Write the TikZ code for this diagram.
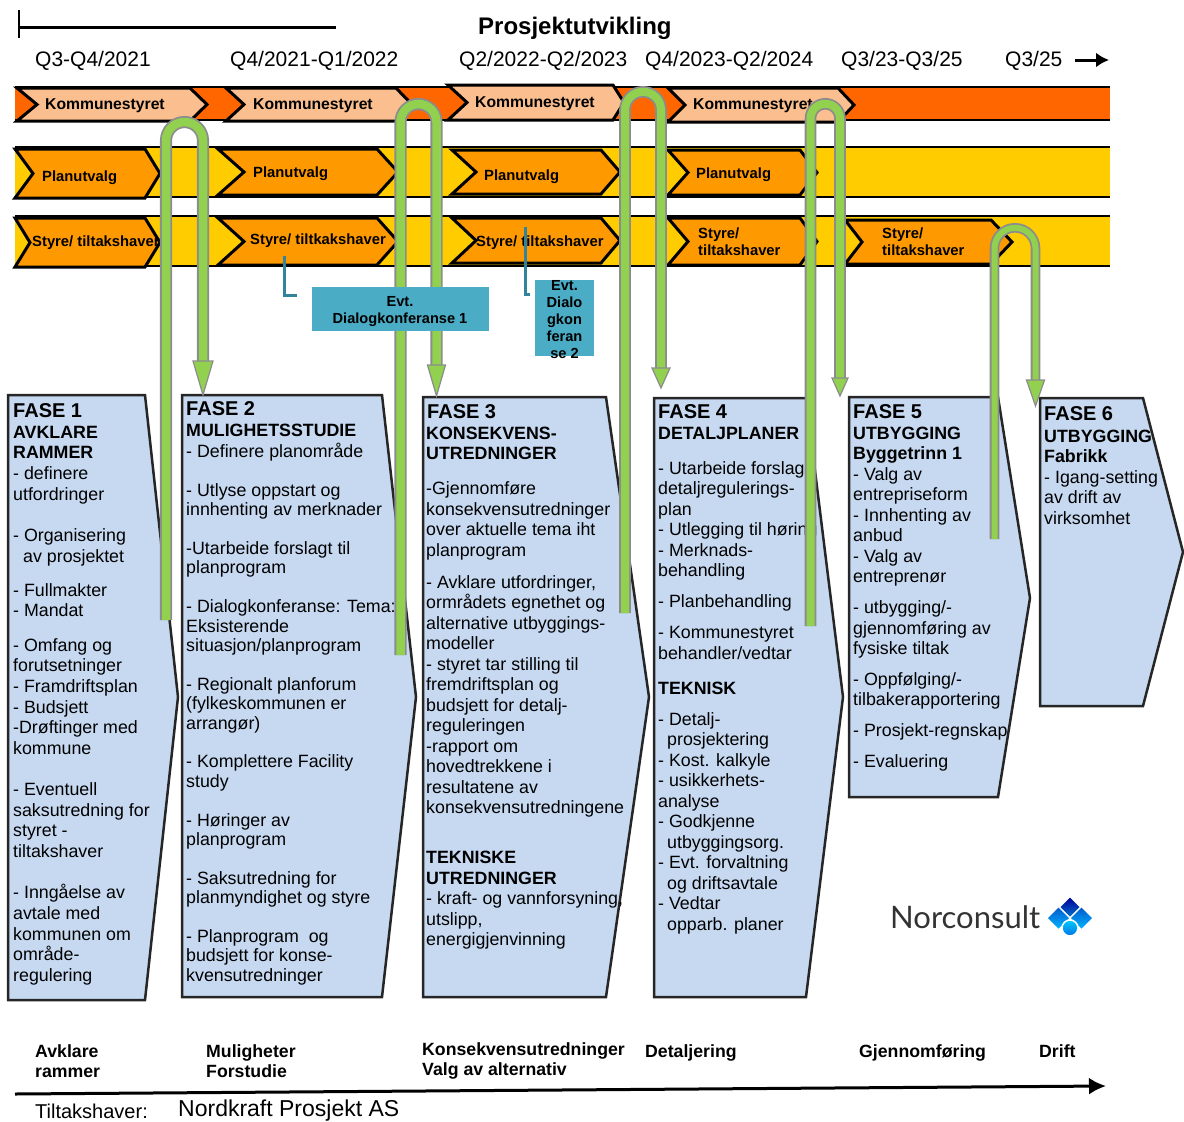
\documentclass[tikz,border=0pt]{standalone}
\usepackage{fontspec}
\usetikzlibrary{arrows.meta}
\setmainfont{Liberation Sans}
\newfontfamily\logofont{Lato}
\definecolor{komstrip}{HTML}{FF6600}
\definecolor{komchev}{HTML}{FBBF8F}
\definecolor{planstrip}{HTML}{FFCC00}
\definecolor{planchev}{HTML}{FF9900}
\definecolor{fasefill}{HTML}{C6D9F1}
\definecolor{dlgfill}{HTML}{4BACC6}
\definecolor{dlgline}{HTML}{31849B}
\definecolor{tubegreen}{HTML}{92D050}
\definecolor{tubegray}{HTML}{8C8C8C}
\newcommand{\px}[1]{\fontsize{#1}{#1}\selectfont}
\begin{document}
\begin{tikzpicture}[x=1pt,y=-1pt,line join=miter]
    \tikzstyle{strip}=[draw=black,line width=1.2pt]
    \tikzstyle{chev}=[draw=black,line width=3pt]
    \tikzstyle{fase}=[draw=black!85,line width=2.5pt,fill=fasefill]
    \tikzstyle{lbl}=[anchor=base west,inner sep=0pt]
    \tikzstyle{chevlbl}=[lbl,font=\bfseries\px{14.8}]
    \tikzstyle{chevlbltwo}=[anchor=west,inner sep=0pt,align=left,font=\bfseries\fontsize{14.8}{17}\selectfont]
    \tikzstyle{quarter}=[lbl,font=\px{21}]
    \tikzstyle{stage}=[anchor=west,inner sep=0pt,align=left,font=\bfseries\fontsize{17.7}{20}\selectfont]
    \tikzstyle{fasehead}=[lbl,font=\bfseries\px{20}]
    \tikzstyle{fasetxt}=[anchor=north west,inner sep=0pt,align=left,font=\fontsize{17.8}{20.5}\selectfont]
    \tikzstyle{dlgbox}=[fill=dlgfill,inner sep=0pt]
    \tikzstyle{dlgtxt}=[inner sep=0pt,align=center,font=\bfseries\fontsize{14.6}{17}\selectfont]
    \useasboundingbox (0,0) rectangle (1184,1122);

    % top rule and headings
    \coordinate (rule-a) at (19,10);
    \coordinate (rule-b) at (19,38);
    \coordinate (rule-c) at (19,27);
    \coordinate (rule-d) at (336,27);
    \draw[line width=2pt] (rule-a) -- (rule-b);
    \draw[line width=3pt] (rule-c) -- (rule-d);
    \node[lbl,font=\bfseries\px{24}] (title) at (478,34) {Prosjektutvikling};
    \foreach \num/\x/\txt in {1/35/Q3-Q4\slash 2021, 2/230/Q4\slash 2021-Q1\slash 2022, 3/459/Q2\slash 2022-Q2\slash 2023, 4/645/Q4\slash 2023-Q2\slash 2024, 5/841/Q3\slash 23-Q3\slash 25, 6/1005/Q3\slash 25}
        \node[quarter] (Q-\num) at (\x,66.5) {\txt};
    \coordinate (later-a) at (1075,60);
    \coordinate (later-b) at (1109,60);
    \draw[-{Latex[length=13pt,width=15pt]},line width=3pt] (later-a) -- (later-b);

    % strips
    \foreach \ya/\yb/\col in {87/120/komstrip, 147/197/planstrip, 216/266/planstrip} {
        \fill[\col] (15,\ya) rectangle (1110,\yb);
        \draw[strip] (15,\ya) -- (1110,\ya);
        \draw[strip] (15,\yb) -- (1110,\yb);
    }

    % chevrons
    \foreach \xa/\xn/\xb/\xt/\ya/\yb in {17/37/190/207/88/121, 226/244/396/412/88/121, 448/467/613/624/85/120, 668/685/838/854/88/122}
        \draw[chev,fill=komchev] (\xa,\ya) -- (\xb,\ya) -- (\xt,{(\ya+\yb)/2}) -- (\xb,\yb) -- (\xa,\yb) -- (\xn,{(\ya+\yb)/2}) -- cycle;
    \foreach \xa/\xn/\xb/\xt/\ya/\yb in {15/33/145/160/149/198, 218/244/377/398/149/195, 452/476/601/620/150/194, 668/688/800/817/150/195,
        15/30/145/160/218/267, 218/244/377/398/218/265, 452/476/601/620/218/263, 668/688/800/817/218/265, 845/862/991/1012/220/264}
        \draw[chev,fill=planchev] (\xa,\ya) -- (\xb,\ya) -- (\xt,{(\ya+\yb)/2}) -- (\xb,\yb) -- (\xa,\yb) -- (\xn,{(\ya+\yb)/2}) -- cycle;

    \foreach \num/\x/\y in {1/45/109.5, 2/253/109.5, 3/475/107.5, 4/693/109.5}
        \node[lbl,font=\bfseries\px{15.7}] (K-\num) at (\x,\y) {Kommunestyret};
    \foreach \num/\x/\y in {1/42/181.5, 2/253/177.5, 3/484/180.5, 4/696/178.5}
        \node[chevlbl] (P-\num) at (\x,\y) {Planutvalg};
    \node[chevlbl] (S-1) at (32,246.5) {Styre/ tiltakshaver};
    \node[chevlbl] (S-2) at (250,244.5) {Styre/ tiltkakshaver};
    \node[chevlbl] (S-3) at (476,246.5) {Styre/ tiltakshaver};
    \node[chevlbltwo] (S-4) at (698,242) {Styre/\\tiltakshaver};
    \node[chevlbltwo] (S-5) at (882,241.5) {Styre/\\tiltakshaver};

    % phases
    \draw[fase] (8,395) -- (145,395) -- (178,697) -- (145,1000) -- (8,1000) -- cycle;
    \draw[fase] (182,395) -- (382,395) -- (416,697) -- (382,997) -- (182,997) -- cycle;
    \draw[fase] (423,397) -- (606,397) -- (649,697) -- (606,997) -- (423,997) -- cycle;
    \draw[fase] (654,398) -- (806,398) -- (843,697) -- (806,997) -- (654,997) -- cycle;
    \draw[fase] (849,397) -- (998,397) -- (1030,598) -- (998,797) -- (849,797) -- cycle;
    \draw[fase] (1040,398) -- (1143,398) -- (1183,552) -- (1143,706) -- (1040,706) -- cycle;

    \foreach \num/\x/\y in {1/13/417.5, 2/186/415.5, 3/427/418.5, 4/658/418.5, 5/853/418.5, 6/1044/420.5}
        \node[fasehead] (F-\num) at (\x,\y) {FASE \num};

    \node[fasetxt,font=\fontsize{17.8}{20.65}\selectfont] (txt-1) at (13,423.5) {\strut\textbf{AVKLARE}\\\textbf{RAMMER}\\- definere\\utfordringer\\[20.7pt]
        - Organisering\\\hspace*{10pt}av prosjektet\\[13.5pt]- Fullmakter\\- Mandat\\[13.5pt]
        - Omfang og\\forutsetninger\\- Framdriftsplan\\- Budsjett\\-Drøftinger med\\kommune\\[20.7pt]
        - Eventuell\\saksutredning for\\styret -\\tiltakshaver\\[20.7pt]
        - Inngåelse av\\avtale med\\kommunen om\\område-\\regulering};
    \node[fasetxt,font=\fontsize{17.8}{19.4}\selectfont] (txt-2) at (186,422.5) {\strut\textbf{MULIGHETSSTUDIE}\\- Definere planområde\\[19.4pt]
        - Utlyse oppstart og\\innhenting av merknader\\[19.4pt]
        -Utarbeide forslagt til\\planprogram\\[19.4pt]
        - Dialogkonferanse: Tema:\\Eksisterende\\situasjon/planprogram\\[19.4pt]
        - Regionalt planforum\\(fylkeskommunen er\\arrangør)\\[19.4pt]
        - Komplettere Facility\\study\\[19.4pt]
        - Høringer av\\planprogram\\[19.4pt]
        - Saksutredning for\\planmyndighet og styre\\[19.4pt]
        - Planprogram\ \ og\\budsjett for konse-\\kvensutredninger};
    \node[fasetxt] (txt-3) at (426,424.5) {\strut\textbf{KONSEKVENS-}\\\textbf{UTREDNINGER}\\[14.5pt]
        -Gjennomføre\\konsekvensutredninger\\over aktuelle tema iht\\planprogram\\[11.5pt]
        - Avklare utfordringer,\\ormrådets egnethet og\\alternative utbyggings-\\modeller\\
        - styret tar stilling til\\fremdriftsplan og\\budsjett for detalj-\\reguleringen\\
        -rapport om\\hovedtrekkene i\\resultatene av\\konsekvensutredningene\\[29.5pt]
        \textbf{TEKNISKE}\\\textbf{UTREDNINGER}\\- kraft- og vannforsyning,\\utslipp,\\energigjenvinning};
    \node[fasetxt] (txt-4) at (658,424.5) {\strut\textbf{DETALJPLANER}\\[14.5pt]
        - Utarbeide forslag\\detaljregulerings-\\plan\\- Utlegging til høring\\- Merknads-\\behandling\\[10.5pt]
        - Planbehandling\\[10.5pt]
        - Kommunestyret\\behandler/vedtar\\[14.5pt]
        \textbf{TEKNISK}\\[10.5pt]
        - Detalj-\\\hspace*{9pt}prosjektering\\- Kost. kalkyle\\- usikkerhets-\\analyse\\- Godkjenne\\\hspace*{9pt}utbyggingsorg.\\
        - Evt. forvaltning\\\hspace*{9pt}og driftsavtale\\- Vedtar\\\hspace*{9pt}opparb. planer};
    \node[fasetxt] (txt-5) at (853,424.5) {\strut\textbf{UTBYGGING}\\\textbf{Byggetrinn 1}\\- Valg av\\entrepriseform\\- Innhenting av\\anbud\\- Valg av\\entreprenør\\[10.5pt]
        - utbygging/-\\gjennomføring av\\fysiske tiltak\\[10pt]
        - Oppfølging/-\\tilbakerapportering\\[10.5pt]
        - Prosjekt-regnskap\\[10pt]
        - Evaluering};
    \node[fasetxt] (txt-6) at (1044,427.5) {\strut\textbf{UTBYGGING}\\\textbf{Fabrikk}\\- Igang-setting\\av drift av\\virksomhet};

    % green tubes
    \foreach \num/\xl/\xr/\ytop/\ybot/\yhead/\ytip/\hw/\wg in {1/166/203/116/620/361/395/10/8.5, 2/400.5/436.5/98/655/365/396/9/8.5, 3/625/661/86/613/368/388/9/8, 4/810.5/840/98/626/378/396/8/8, 5/994.5/1035.5/223/539/380/406/9/6} {
        \pgfmathsetmacro{\rad}{(\xr-\xl)/2}
        \coordinate (T-\num-a) at (\xl,\ybot);
        \coordinate (T-\num-b) at (\xr,\yhead);
        \coordinate (T-\num-c) at (\xr,\ytip);
        \draw[draw=tubegray,line width=1.8pt,double=tubegreen,double distance=\wg pt]
            (T-\num-a) -- (\xl,\ytop+\wg/2+1.8+\rad) arc[start angle=180,end angle=0,radius=\rad pt] -- (T-\num-b);
        \draw[draw=tubegray,line width=1.2pt,fill=tubegreen] (\xr-\hw,\yhead) -- (\xr+\hw,\yhead) -- (T-\num-c) -- cycle;
    }

    % dialog boxes
    \node[dlgbox,minimum width=177pt,minimum height=44pt] (dlg-1) at (400.5,309) {};
    \node[dlgtxt] (dlg-1-txt) at (400,312) {Evt.\\Dialogkonferanse\ 1};
    \node[dlgbox,minimum width=59pt,minimum height=76pt] (dlg-2) at (564.5,318) {};
    \node[dlgtxt] (dlg-2-txt) at (564.5,319.5) {Evt.\\Dialo\\gkon\\feran\\se 2};
    \coordinate (dlg-1-a) at (284,256);
    \coordinate (dlg-1-b) at (297,295);
    \coordinate (dlg-2-a) at (525,227);
    \coordinate (dlg-2-b) at (530,294);
    \draw[draw=dlgline,line width=3pt] (dlg-1-a) |- (dlg-1-b);
    \draw[draw=dlgline,line width=3pt] (dlg-2-a) |- (dlg-2-b);

    % logo
    \node[lbl,font=\logofont\px{31},text=black!80] (logo) at (890,928.5) {Norconsult};
    \shade[top color=blue!60!black,bottom color=blue!45!cyan!80!black] (1070,897.5) -- (1079.5,907) -- (1070,916.5) -- (1060.5,907) -- cycle;
    \shade[top color=blue!55!cyan!80!black,bottom color=cyan!70!blue] (1058.5,907.5) -- (1069,918) -- (1058.5,928.5) -- (1048,918) -- cycle;
    \shade[top color=blue!55!cyan!80!black,bottom color=cyan!70!blue] (1081.5,907.5) -- (1092,918) -- (1081.5,928.5) -- (1071,918) -- cycle;
    \shadedraw[draw=white,line width=1.5pt,top color=cyan!80!blue,bottom color=blue!50!cyan!90!black] (1070,928) circle (8pt);

    % stages
    \node[stage] (stage-1) at (35,1061) {Avklare\\rammer};
    \node[stage] (stage-2) at (206,1061) {Muligheter\\Forstudie};
    \node[stage] (stage-3) at (422,1061) {Konsekvensutredninger\\Valg av alternativ};
    \node[lbl,font=\bfseries\px{17.7}] (stage-4) at (645,1057.5) {Detaljering};
    \node[lbl,font=\bfseries\px{17.7}] (stage-5) at (859,1057.5) {Gjennomføring};
    \node[lbl,font=\bfseries\px{17.7}] (stage-6) at (1039,1057.5) {Drift};
    \coordinate (time-a) at (15,1094);
    \coordinate (time-b) at (1106,1086);
    \draw[-{Latex[length=17pt,width=17pt]},line width=3pt] (time-a) -- (time-b);
    \node[lbl,font=\px{20}] (owner-a) at (35,1118.5) {Tiltakshaver:};
    \node[lbl,font=\px{23}] (owner-b) at (178,1116.8) {Nordkraft Prosjekt AS};
\end{tikzpicture}
\end{document}
